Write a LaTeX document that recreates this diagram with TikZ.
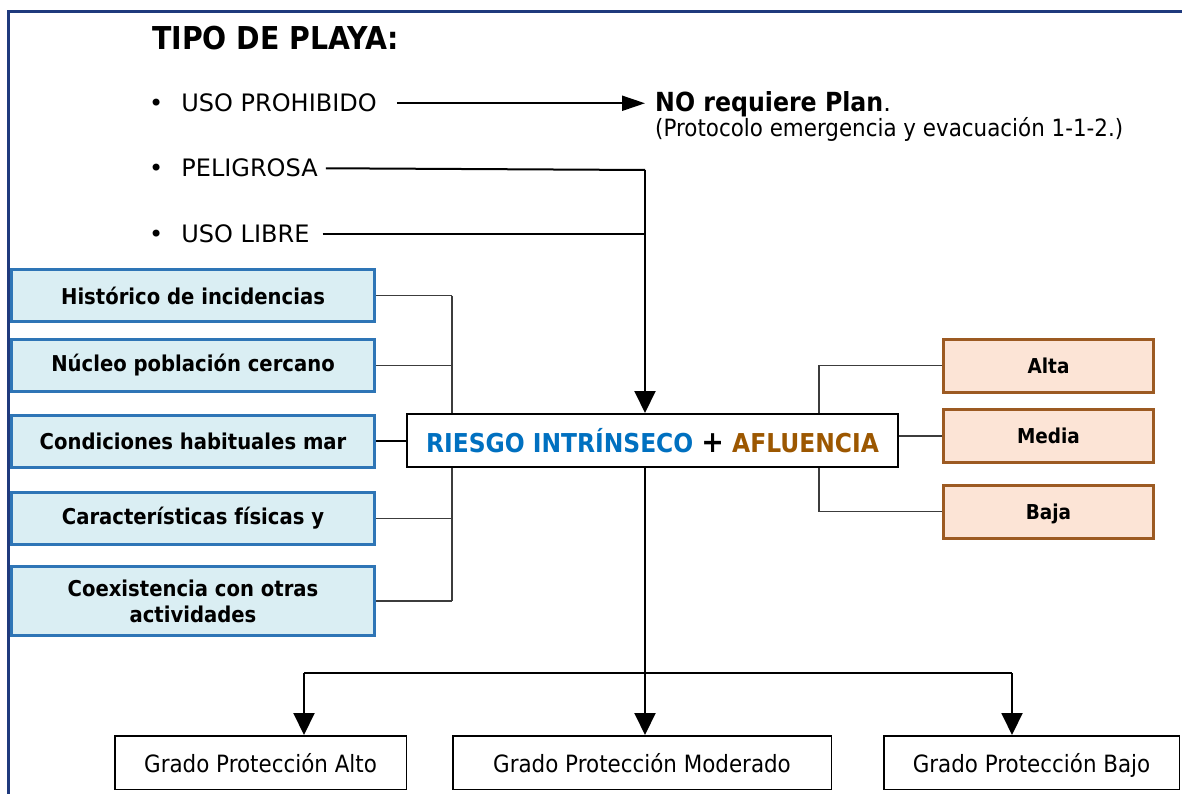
\documentclass[tikz,border=0pt]{standalone}
\usepackage{fontspec}
\setmainfont{DejaVu Sans}[BoldFeatures={FakeStretch=0.9}]
\newfontfamily\estrecha{DejaVu Sans}[FakeStretch=0.9]
\usepackage{tikz}
\usetikzlibrary{arrows.meta}
\usepackage{color}
\definecolor{marco}{RGB}{31,58,125}
\definecolor{azulborde}{RGB}{46,117,182}
\definecolor{azulfondo}{RGB}{218,238,243}
\definecolor{marronborde}{RGB}{156,90,34}
\definecolor{marronfondo}{RGB}{252,228,214}
\definecolor{riesgo}{RGB}{0,112,192}
\definecolor{afluencia}{RGB}{156,87,0}
\definecolor{gris}{RGB}{60,60,60}

\begin{document}
\begin{tikzpicture}[x=1pt, y=-1pt,
  factor/.style={draw=azulborde, fill=azulfondo, line width=3pt, minimum width=363pt,
    minimum height=52pt, align=center, font=\fontsize{21.8pt}{26pt}\selectfont\bfseries},
  nivel/.style={draw=marronborde, fill=marronfondo, line width=3pt, minimum width=210pt,
    minimum height=53pt, text height=15pt, text depth=0pt, font=\fontsize{20.5pt}{24pt}\selectfont\bfseries},
  grado/.style={draw, line width=1.5pt, minimum height=53.5pt, text height=19pt, text depth=0pt,
    font=\estrecha\fontsize{23.8pt}{26pt}\selectfont},
  tipo/.style={anchor=base west, inner sep=0pt, font=\fontsize{24pt}{28pt}\selectfont},
  flecha/.style={line width=2pt, -{Triangle[length=22pt, width=21pt]}},
  enlace/.style={line width=2pt},
  bus/.style={line width=1.5pt, draw=gris}]
\useasboundingbox (0,0) rectangle (1182,794);
\draw[marco, line width=3pt] (8,794) -- (8,12) -- (1182,12);

\node[anchor=base west, inner sep=0pt, font=\fontsize{31.5pt}{34pt}\selectfont\bfseries] (titulo) at (152,50) {TIPO DE PLAYA:};
\node[tipo] (prohibido) at (149,112) {•\hspace{18pt}USO PROHIBIDO};
\node[tipo] (peligrosa) at (149,177) {•\hspace{18pt}PELIGROSA};
\node[tipo] (libre) at (149,243) {•\hspace{18pt}USO LIBRE};
\node[anchor=base west, inner xsep=10pt, inner ysep=0pt, font=\fontsize{24pt}{28pt}\selectfont] (noplan) at (645,112) {{\fontsize{26.3pt}{28pt}\selectfont\bfseries NO requiere Plan}.};
\node[anchor=base west, inner sep=0pt, font=\estrecha\fontsize{23.8pt}{26pt}\selectfont] (protocolo) at (655,137) {(Protocolo emergencia y evacuación 1-1-2.)};

% factores de riesgo
\node[factor] (historico) at (193,295.5) {Histórico de incidencias};
\node[factor] (nucleo) at (193,365.5) {Núcleo población cercano};
\node[factor] (condiciones) at (193,441) {Condiciones habituales mar};
\node[factor] (fisicas) at (193,518.5) {Características físicas y};
\node[factor, minimum height=69pt] (coexistencia) at (193,601) {Coexistencia con otras\\actividades};

% afluencia
\node[nivel] (alta) at (1048.5,365.5) {Alta};
\node[nivel] (media) at (1048.5,436) {Media};
\node[nivel] (baja) at (1048.5,511.5) {Baja};

\coordinate (busI) at (452,0);
\coordinate (busD) at (819,0);
\coordinate (eje) at (645,170);
\draw[bus] (historico.east) -- (historico.east -| busI);
\draw[bus] (nucleo.east) -- (nucleo.east -| busI);
\draw[bus] (fisicas.east) -- (fisicas.east -| busI);
\draw[bus] (coexistencia.east) -- (coexistencia.east -| busI);
\draw[bus] (historico.east -| busI) -- (coexistencia.east -| busI);
\draw[bus] (alta.west) -- (alta.west -| busD) -- (baja.west -| busD) -- (baja.west);

\node[draw, fill=white, line width=2pt, minimum width=491pt, minimum height=53pt,
  font=\fontsize{26pt}{28pt}\selectfont\bfseries] (centro) at (652.5,440.5)
  {\color{riesgo}RIESGO INTRÍNSECO \color{black}{\fontsize{30pt}{28pt}\selectfont+} \color{afluencia}AFLUENCIA};
\draw[enlace] (condiciones.east) -- (condiciones.east -| centro.west);
\draw[bus] (media.west -| centro.east) -- (media.west);

% grados de proteccion
\node[grado, minimum width=291.5pt] (gpa) at (260.5,762.5) {Grado Protección Alto};
\node[grado, minimum width=378.5pt] (gpm) at (642,762.5) {Grado Protección Moderado};
\node[grado, minimum width=295.5pt] (gpb) at (1031.5,762.5) {Grado Protección Bajo};

\draw[enlace, -{Triangle[length=23pt, width=15pt]}] ([xshift=20pt]prohibido.east) -- (prohibido.east -| noplan.west);
\draw[enlace] ([xshift=8pt]peligrosa.east) -- (eje);
\draw[enlace] ([xshift=13pt]libre.east) -- (libre.east -| eje);
\draw[flecha] (eje) -- (eje |- centro.north);

\coordinate (barI) at (304,673);
\coordinate (barD) at (1012,673);
\draw[enlace] (barI) -- (barD);
\draw[flecha] (barI) -- (barI |- gpa.north);
\draw[flecha] (barD) -- (barD |- gpb.north);
\draw[flecha] (eje |- centro.south) -- (eje |- gpm.north);
\end{tikzpicture}
\end{document}
